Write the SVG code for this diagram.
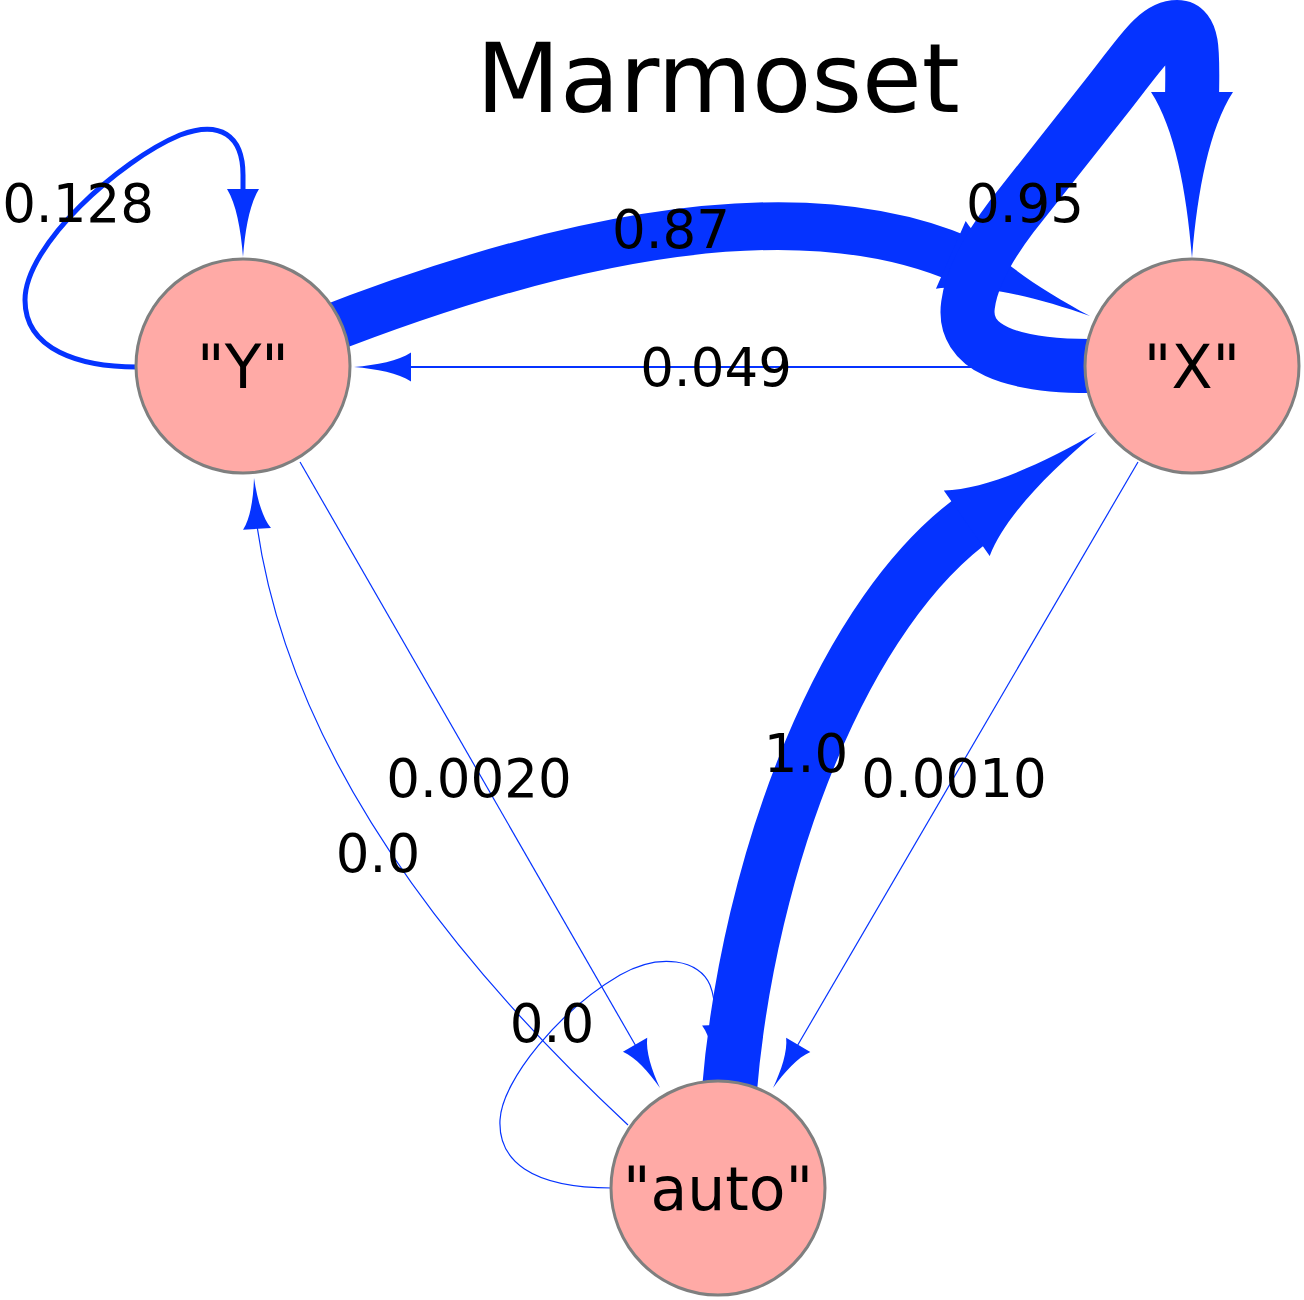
<svg xmlns="http://www.w3.org/2000/svg" width="1304" height="1300" viewBox="0 0 1304 1300">
<style>
.e{fill:none;stroke:#0533ff;stroke-linecap:butt}
.ah{fill:#0533ff}
.node{fill:#ffaaa6;stroke:#7f7f7f;stroke-width:3}
.nl{font-family:"DejaVu Sans",sans-serif;font-size:60px;fill:#000;text-anchor:middle}
.el{font-family:"DejaVu Sans",sans-serif;font-size:53px;fill:#000;text-anchor:middle}
.title{font-family:"DejaVu Sans",sans-serif;font-size:97px;fill:#000;text-anchor:middle}
</style>
<defs>
<path id="ah" d="M0,0 C-0.4,-0.13 -0.78,-0.42 -1,-1 L-1,1 C-0.78,0.42 -0.4,0.13 0,0 Z"/>
</defs>
<rect width="1304" height="1300" fill="#fff"/>
<text class="title" x="718" y="112">Marmoset</text>
<g id="edges">
  <!-- auto self-loop 0.0 -->
  <path class="e" stroke-width="1.2" d="M612,1188 C530,1188 498,1160 500,1120 C502,1080 560,1010 620,975 C660,952 700,960 710,985 C714,995 716,1010 716,1030"/>
  <use href="#ah" class="ah" transform="translate(718,1080) rotate(88) scale(55,14)"/>
  <!-- auto -> Y 0.0 -->
  <path class="e" stroke-width="1.2" d="M628,1125 Q299,818 257,526"/>
  <use href="#ah" class="ah" transform="translate(254,478) rotate(-93.4) scale(51,14)"/>
  <!-- Y -> auto 0.0020 -->
  <path class="e" stroke-width="1.2" d="M300,462 L637,1048"/>
  <use href="#ah" class="ah" transform="translate(660,1088) rotate(60.1) scale(50,14)"/>
  <!-- X -> auto 0.0010 -->
  <path class="e" stroke-width="1.2" d="M1138,462 L796,1048"/>
  <use href="#ah" class="ah" transform="translate(773,1088) rotate(120.3) scale(50,14)"/>
  <!-- X -> Y 0.049 -->
  <path class="e" stroke-width="2" d="M1086,367 L408,367"/>
  <use href="#ah" class="ah" transform="translate(354,367) rotate(180) scale(57,14.5)"/>
  <!-- Y self-loop 0.128 -->
  <path class="e" stroke-width="5" d="M137,367 C80,367 25,350 25,300 C25,245 120,160 180,135 C220,120 243,135 243,175 L243,194"/>
  <use href="#ah" class="ah" transform="translate(243,257) rotate(90) scale(68,16)"/>
  <!-- Y -> X 0.87 -->
  <path class="e" stroke-width="48" d="M318,333 Q746,165 965,261"/>
  <use href="#ah" class="ah" transform="translate(1090,316) rotate(23.7) scale(152,37)"/>
  <!-- X self-loop 0.95 -->
  <path class="e" stroke-width="54" d="M1090,366 C1010,366 962,348 968,305 C972,275 990,245 1012,216 L1110,92 C1140,54 1156,27 1177,27 C1196,27 1192,62 1192,106"/>
  <use href="#ah" class="ah" transform="translate(1192,258) rotate(90) scale(166,41)"/>
  <!-- auto -> X 1.0 -->
  <path class="e" stroke-width="55" d="M729,1095 C748,860 844,609 979,515"/>
  <use href="#ah" class="ah" transform="translate(1097,432) rotate(-35) scale(159,40)"/>
</g>
<g id="node-Y">
  <circle class="node" cx="243" cy="366" r="107"/>
  <text class="nl" x="243" y="388">"Y"</text>
</g>
<g id="node-X">
  <circle class="node" cx="1192" cy="366" r="107"/>
  <text class="nl" x="1192" y="388">"X"</text>
</g>
<g id="node-auto">
  <circle class="node" cx="718" cy="1188" r="107"/>
  <text class="nl" x="718" y="1210">"auto"</text>
</g>
<g id="edge-labels">
  <text class="el" x="78" y="222">0.128</text>
  <text class="el" x="671" y="248">0.87</text>
  <text class="el" x="1025" y="222">0.95</text>
  <text class="el" x="716" y="386">0.049</text>
  <text class="el" x="479" y="797">0.0020</text>
  <text class="el" x="954" y="797">0.0010</text>
  <text class="el" x="806" y="772">1.0</text>
  <text class="el" x="378" y="872">0.0</text>
  <text class="el" x="552" y="1042">0.0</text>
</g>
</svg>
